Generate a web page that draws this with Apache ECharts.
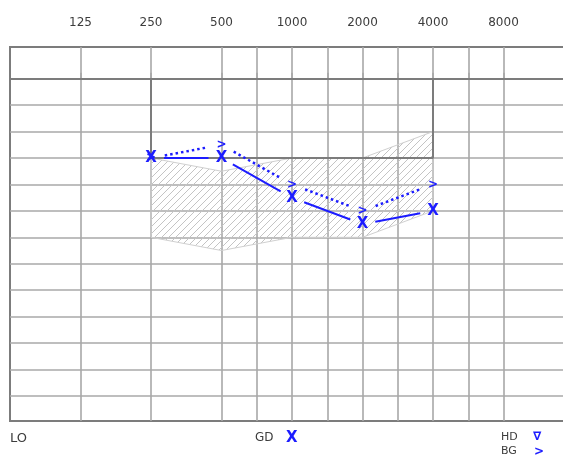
<!DOCTYPE html>
<html>
<head>
<meta charset="utf-8">
<script src="https://cdn.jsdelivr.net/npm/echarts@6/dist/echarts.min.js"></script>
<style>
  html, body { margin: 0; padding: 0; background: #fff; }
  #chart { width: 563px; height: 461px; }
</style>
</head>
<body>
<div id="chart"></div>
<script>
// Frequency slots in half-octave steps (Hz); the audiogram grid sits on these
const freqSlots = ['63', '90', '125', '180', '250', '355', '500', '750', '1000', '1500', '2000', '3000', '4000', '6000', '8000', '12000', '16000'];
const freqLabels = ['125', '250', '500', '1000', '2000', '4000', '8000'];
const gridFreqs = ['125', '250', '500', '750', '1000', '1500', '2000', '3000', '4000', '6000', '8000'];
const levels = [0, 10, 20, 30, 40, 50, 60, 70, 80, 90, 100, 110, 120];

// Air conduction thresholds (X), dB HL
const airFreqs = ['250', '500', '1000', '2000', '4000'];
const airLevels = [30, 30, 45, 55, 50];

// Bone conduction thresholds (>), dB HL
const boneFreqs = ['250', '500', '1000', '2000', '4000'];
const boneLevels = [30, 25, 40, 50, 40];

// Hatched speech area: upper and lower edges
const areaFreqs = ['250', '500', '1000', '2000', '4000'];
const areaUpper = [30, 35, 30, 30, 20];
const areaLower = [60, 65, 60, 60, 50];

// Normal range frame
const frameFreqs = ['250', '250', '4000', '4000'];
const frameLevels = [0, 30, 30, 0];

const BLUE = '#1c1cff';
const GRID = '#a8a8a8';
const FRAME = '#7c7c7c';
const TEXT = '#3c3c3c';

const slot = f => freqSlots.indexOf(f);

// Diagonal hatch tile
const hatch = document.createElement('canvas');
hatch.width = hatch.height = 7;
(function () {
  const ctx = hatch.getContext('2d');
  ctx.strokeStyle = '#c4c4c4';
  ctx.lineWidth = 1;
  ctx.beginPath();
  ctx.moveTo(-1, 8); ctx.lineTo(8, -1);
  ctx.moveTo(-1, 1); ctx.lineTo(1, -1);
  ctx.moveTo(6, 8); ctx.lineTo(8, 6);
  ctx.stroke();
})();

function segmentData(freqs, lv) {
  const out = [];
  for (let i = 0; i < freqs.length - 1; i++) {
    out.push([slot(freqs[i]), lv[i], slot(freqs[i + 1]), lv[i + 1]]);
  }
  return out;
}

// Connecting lines stop short of the symbols
function segmentRenderer(gap, dash, width) {
  return function (params, api) {
    const a = api.coord([api.value(0), api.value(1)]);
    const b = api.coord([api.value(2), api.value(3)]);
    const dx = b[0] - a[0], dy = b[1] - a[1];
    const len = Math.hypot(dx, dy);
    const ux = dx / len, uy = dy / len;
    return {
      type: 'line',
      shape: { x1: a[0] + ux * gap, y1: a[1] + uy * gap, x2: b[0] - ux * gap, y2: b[1] - uy * gap },
      style: { stroke: BLUE, lineWidth: width, lineDash: dash, fill: null }
    };
  };
}

function glyphRenderer(ch, font) {
  return function (params, api) {
    const p = api.coord([api.value(0), api.value(1)]);
    return {
      type: 'text', x: p[0], y: p[1],
      style: { text: ch, fill: BLUE, font: font, align: 'center', verticalAlign: 'middle' }
    };
  };
}

const chart = echarts.init(document.getElementById('chart'));

chart.setOption({
  animation: false,
  backgroundColor: '#fff',
  grid: {
    left: 10, top: 47, right: -11, bottom: 40,
    show: true, borderColor: FRAME, borderWidth: 2,
    containLabel: false, outerBoundsMode: 'none'
  },
  xAxis: {
    type: 'category',
    position: 'top',
    data: freqSlots,
    boundaryGap: false,
    axisLine: { show: false },
    axisTick: {
      show: true, length: 6, inside: false,
      interval: (i, v) => gridFreqs.includes(v),
      lineStyle: { color: GRID, width: 1.6 }
    },
    axisLabel: {
      show: true, margin: 18,
      interval: (i, v) => freqLabels.includes(v),
      color: TEXT, fontFamily: 'DejaVu Sans', fontSize: 12
    },
    splitLine: {
      show: true,
      interval: (i, v) => gridFreqs.includes(v),
      lineStyle: { color: GRID, width: 1.6 }
    }
  },
  yAxis: {
    type: 'value',
    inverse: true,
    min: -12, max: 129.5,
    axisLine: { show: false },
    axisTick: { show: false, customValues: levels },
    axisLabel: { show: false, customValues: levels },
    splitLine: { show: true, lineStyle: { color: GRID, width: 1.6 } }
  },
  series: [
    {
      type: 'custom',
      name: 'speech area',
      silent: true,
      z: 1,
      data: [[slot(areaFreqs[0]), areaUpper[0]]],
      encode: { x: 0, y: 1 },
      renderItem: function (params, api) {
        const pts = [];
        for (let i = 0; i < areaFreqs.length; i++) pts.push(api.coord([slot(areaFreqs[i]), areaUpper[i]]));
        for (let i = areaFreqs.length - 1; i >= 0; i--) pts.push(api.coord([slot(areaFreqs[i]), areaLower[i]]));
        return {
          type: 'polygon',
          shape: { points: pts },
          style: { fill: { image: hatch, repeat: 'repeat' }, stroke: '#d0d0d0', lineWidth: 1 }
        };
      }
    },
    {
      type: 'line',
      name: 'frame',
      silent: true,
      z: 2,
      symbol: 'none',
      data: frameFreqs.map((f, i) => [f, frameLevels[i]]),
      lineStyle: { color: FRAME, width: 2 },
      markLine: {
        silent: true, symbol: 'none', label: { show: false },
        lineStyle: { color: FRAME, width: 2, type: 'solid' },
        data: [{ yAxis: levels[0] }]
      }
    },
    {
      type: 'custom',
      name: 'air line',
      silent: true, z: 3,
      data: segmentData(airFreqs, airLevels),
      encode: { x: [0, 2], y: [1, 3] },
      renderItem: segmentRenderer(13, null, 2)
    },
    {
      type: 'custom',
      name: 'bone line',
      silent: true, z: 3,
      data: segmentData(boneFreqs, boneLevels),
      encode: { x: [0, 2], y: [1, 3] },
      renderItem: segmentRenderer(14, [2.5, 3], 2.5)
    },
    {
      type: 'custom',
      name: 'BG',
      silent: true, z: 4,
      data: boneFreqs.map((f, i) => [slot(f), boneLevels[i]]),
      encode: { x: 0, y: 1 },
      renderItem: glyphRenderer('>', 'bold 12px "DejaVu Sans"')
    },
    {
      type: 'custom',
      name: 'GD',
      silent: true, z: 5,
      data: airFreqs.map((f, i) => [slot(f), airLevels[i]]),
      encode: { x: 0, y: 1 },
      renderItem: glyphRenderer('X', 'bold 15px "DejaVu Sans"')
    }
  ],
  graphic: [
    { type: 'text', left: 10, top: 432, style: { text: 'LO', font: '13px "DejaVu Sans"', fill: TEXT } },
    { type: 'text', left: 255, top: 432, style: { text: 'GD', font: '12px "DejaVu Sans"', fill: TEXT } },
    { type: 'text', left: 286, top: 431, style: { text: 'X', font: 'bold 15px "DejaVu Sans"', fill: BLUE } },
    { type: 'text', left: 501, top: 432, style: { text: 'HD', font: '11px "DejaVu Sans"', fill: TEXT } },
    { type: 'text', left: 533, top: 431, style: { text: '∇', font: 'bold 12px "DejaVu Sans"', fill: BLUE } },
    { type: 'text', left: 501, top: 446, style: { text: 'BG', font: '11px "DejaVu Sans"', fill: TEXT } },
    { type: 'text', left: 534, top: 446, style: { text: '>', font: 'bold 12px "DejaVu Sans"', fill: BLUE } }
  ]
});
</script>
</body>
</html>
